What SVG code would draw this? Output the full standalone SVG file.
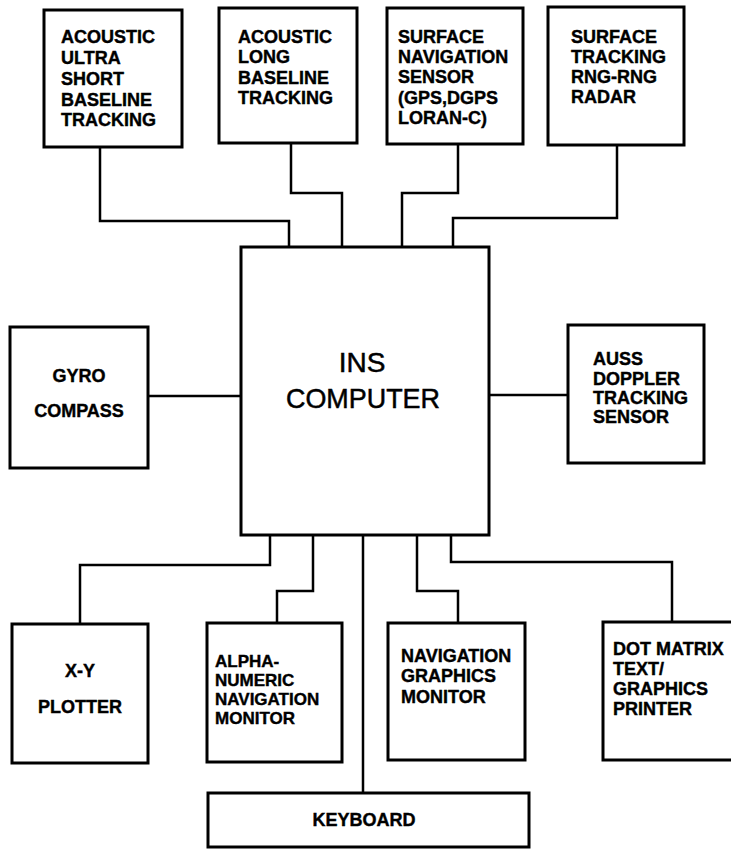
<svg xmlns="http://www.w3.org/2000/svg" width="731" height="850" viewBox="0 0 731 850">
<style>
.box{fill:#fff;stroke:#000;stroke-width:3}
.con{fill:none;stroke:#000;stroke-width:2.5;stroke-linejoin:miter}
.t{font-family:"Liberation Sans",Arial,sans-serif;font-weight:bold;font-size:18px;fill:#000;stroke:#000;stroke-width:0.4}
.s{font-size:17px}
.c{text-anchor:middle}
.ins{font-family:"Liberation Sans",Arial,sans-serif;font-size:28px;fill:#000;stroke:#000;stroke-width:0.5;text-anchor:middle}
</style>
<rect width="731" height="850" fill="#fff"/>
<g id="connectors">
<path class="con" d="M100,147 V221 H289 V248"/>
<path class="con" d="M291,144 V193 H342 V248"/>
<path class="con" d="M458,144 V193 H402 V248"/>
<path class="con" d="M617,145 V218 H453 V248"/>
<path class="con" d="M148,396 H241"/>
<path class="con" d="M489,395 H568"/>
<path class="con" d="M270,535 V565 H80 V624"/>
<path class="con" d="M313,535 V591 H277 V623"/>
<path class="con" d="M363,535 V793"/>
<path class="con" d="M417,535 V591 H458 V623"/>
<path class="con" d="M451,535 V562 H672 V622"/>
</g>
<g id="n_acoustic_usbl">
<rect class="box" x="44" y="10" width="138" height="137"/>
<text class="t"><tspan x="61" y="43">ACOUSTIC</tspan><tspan x="61" y="64">ULTRA</tspan><tspan x="61" y="85">SHORT</tspan><tspan x="61" y="106">BASELINE</tspan><tspan x="61" y="126">TRACKING</tspan></text>
</g>
<g id="n_acoustic_lbl">
<rect class="box" x="219" y="8" width="138" height="135"/>
<text class="t"><tspan x="238" y="43">ACOUSTIC</tspan><tspan x="238" y="63">LONG</tspan><tspan x="238" y="84">BASELINE</tspan><tspan x="238" y="104">TRACKING</tspan></text>
</g>
<g id="n_surface_nav">
<rect class="box" x="387" y="8" width="136" height="136"/>
<text class="t"><tspan x="398" y="43">SURFACE</tspan><tspan x="398" y="63">NAVIGATION</tspan><tspan x="398" y="83">SENSOR</tspan><tspan x="398" y="104">(GPS,DGPS</tspan><tspan x="398" y="124">LORAN-C)</tspan></text>
</g>
<g id="n_surface_tracking">
<rect class="box" x="548" y="7" width="136" height="138"/>
<text class="t"><tspan x="571" y="43">SURFACE</tspan><tspan x="571" y="63">TRACKING</tspan><tspan x="571" y="83">RNG-RNG</tspan><tspan x="571" y="103">RADAR</tspan></text>
</g>
<g id="n_ins">
<rect class="box" x="241" y="247" width="248" height="288"/>
<text class="ins"><tspan x="362" y="372">INS</tspan><tspan x="363" y="408" textLength="154" lengthAdjust="spacingAndGlyphs">COMPUTER</tspan></text>
</g>
<g id="n_gyro">
<rect class="box" x="10" y="327" width="138" height="141"/>
<text class="t c"><tspan x="79" y="382">GYRO</tspan><tspan x="79" y="417">COMPASS</tspan></text>
</g>
<g id="n_auss">
<rect class="box" x="568" y="325" width="136" height="138"/>
<text class="t"><tspan x="593" y="365">AUSS</tspan><tspan x="593" y="385">DOPPLER</tspan><tspan x="593" y="404">TRACKING</tspan><tspan x="593" y="423">SENSOR</tspan></text>
</g>
<g id="n_xy">
<rect class="box" x="12" y="624" width="136" height="139"/>
<text class="t c"><tspan x="80" y="677">X-Y</tspan><tspan x="80" y="713">PLOTTER</tspan></text>
</g>
<g id="n_alpha">
<rect class="box" x="207" y="623" width="135" height="139"/>
<text class="t s"><tspan x="215" y="667">ALPHA-</tspan><tspan x="215" y="686">NUMERIC</tspan><tspan x="215" y="705">NAVIGATION</tspan><tspan x="215" y="724">MONITOR</tspan></text>
</g>
<g id="n_navgraphics">
<rect class="box" x="388" y="623" width="137" height="137"/>
<text class="t"><tspan x="401" y="662">NAVIGATION</tspan><tspan x="401" y="682">GRAPHICS</tspan><tspan x="401" y="703">MONITOR</tspan></text>
</g>
<g id="n_printer">
<rect class="box" x="603" y="622" width="137" height="138"/>
<text class="t"><tspan x="613" y="655">DOT MATRIX</tspan><tspan x="613" y="675">TEXT/</tspan><tspan x="613" y="695">GRAPHICS</tspan><tspan x="613" y="715">PRINTER</tspan></text>
</g>
<g id="n_keyboard">
<rect class="box" x="208" y="793" width="321" height="54"/>
<text class="t c" x="364" y="826">KEYBOARD</text>
</g>
</svg>
